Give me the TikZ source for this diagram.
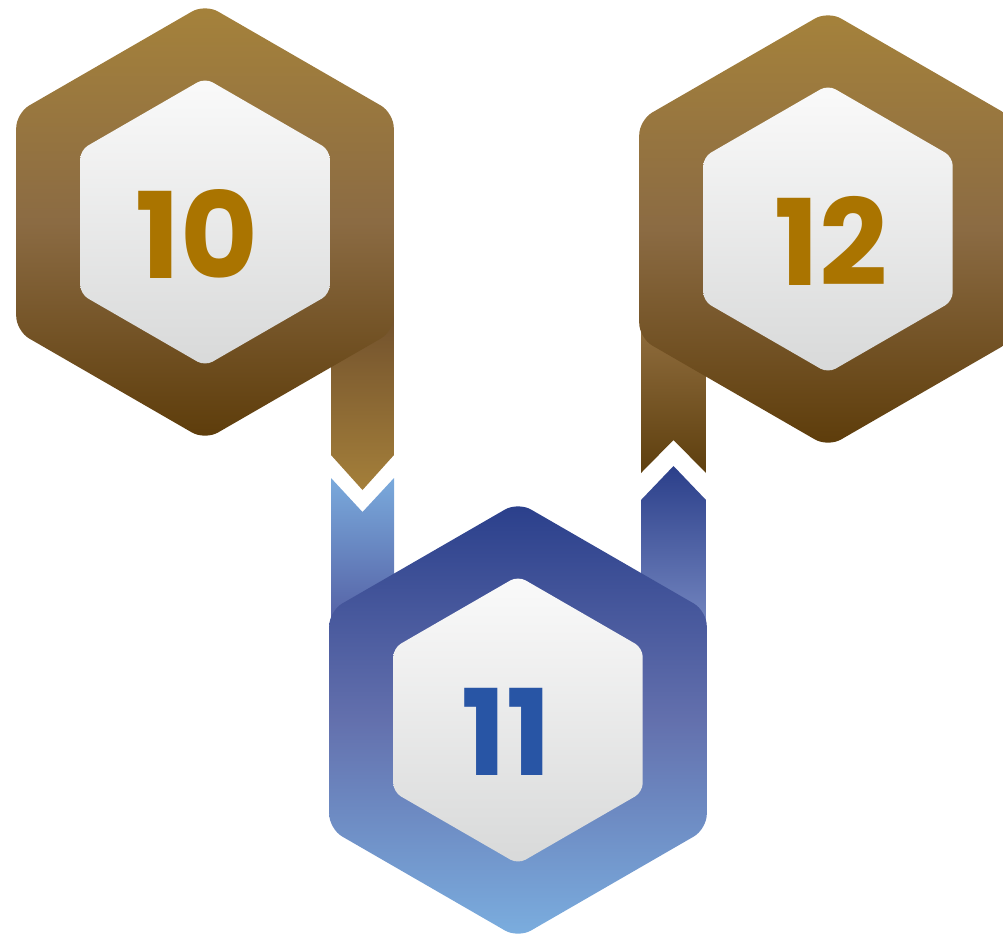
\documentclass[tikz,border=0pt]{standalone}
\usepackage{fontspec}
\setmainfont{Poppins}
\definecolor{hxgoldtop}{RGB}{165, 130, 59}
\definecolor{hxgoldmid}{RGB}{139, 107, 67}
\definecolor{hxgoldbot}{RGB}{93, 60, 10}
\definecolor{hxbluetop}{RGB}{42, 63, 139}
\definecolor{hxbluemid}{RGB}{99, 112, 173}
\definecolor{hxbluebot}{RGB}{123, 174, 223}
\definecolor{hxfacetop}{RGB}{250, 250, 250}
\definecolor{hxfacebot}{RGB}{216, 217, 217}
\definecolor{numgold}{RGB}{170, 116, 0}
\definecolor{numblue}{RGB}{40, 85, 165}
\usepackage{tikz}
\usepackage{xcolor}

\newcommand{\hexpath}[2]{%
  ([shift={(0:{0.866*#2})}]#1) -- ([shift={(30:#2)}]#1) -- ([shift={(90:#2)}]#1)
  -- ([shift={(150:#2)}]#1) -- ([shift={(210:#2)}]#1) -- ([shift={(270:#2)}]#1)
  -- ([shift={(330:#2)}]#1) -- cycle}

\begin{document}
\begin{tikzpicture}[
    x=0.02cm, y=-0.02cm,
    goldring/.style={top color=hxgoldtop, bottom color=hxgoldbot,
                     middle color=hxgoldmid, rounded corners=8.5pt},
    bluering/.style={top color=hxbluetop, bottom color=hxbluebot,
                     middle color=hxbluemid, rounded corners=8.5pt},
    face/.style={top color=hxfacetop, bottom color=hxfacebot, rounded corners=5pt},
    numtxt/.style={font=\fontsize{68}{68}\selectfont\bfseries, inner sep=0pt}
  ]
    \useasboundingbox (0,0) rectangle (1003,934);

    \coordinate (hexA) at (205, 222);
    \coordinate (hexB) at (518, 720);
    \coordinate (hexC) at (828, 229);

    % ribbons (under the hexagons)
    \shade[top color={rgb,255:red,110;green,78;blue,44}, bottom color={rgb,255:red,164;green,127;blue,58}]
      (331,300) -- (394,300) -- (394,455) -- (362.5,490) -- (331,455) -- cycle;
    \shade[top color={rgb,255:red,122;green,170;blue,220}, bottom color={rgb,255:red,80;green,88;blue,158}]
      (331,478) -- (362.5,512) -- (394,478) -- (394,640) -- (331,640) -- cycle;
    \shade[top color={rgb,255:red,43;green,63;blue,138}, bottom color={rgb,255:red,122;green,140;blue,196}]
      (641,500) -- (673.5,466) -- (706,500) -- (706,640) -- (641,640) -- cycle;
    \shade[top color={rgb,255:red,152;green,117;blue,70}, bottom color={rgb,255:red,94;green,63;blue,14}]
      (641,300) -- (706,300) -- (706,473) -- (673.5,440) -- (641,473) -- cycle;

    % hexagons
    \shade[goldring] \hexpath{hexA}{218};
    \shade[face]     \hexpath{hexA}{144};
    \shade[bluering] \hexpath{hexB}{218};
    \shade[face]     \hexpath{hexB}{144};
    \shade[goldring] \hexpath{hexC}{218};
    \shade[face]     \hexpath{hexC}{144};

    \node[numtxt, text=numgold] (numA) at (197, 234)   {10};
    \node[numtxt, text=numblue] (numB) at (506, 732)   {11};
    \node[numtxt, text=numgold] (numC) at (831.5, 241) {12};
  \end{tikzpicture}
\end{document}
